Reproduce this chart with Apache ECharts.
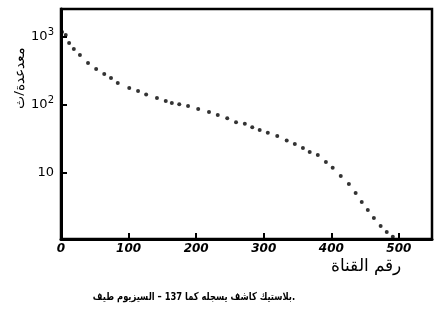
<!DOCTYPE html>
<html>
<head>
<meta charset="utf-8">
<script src="https://cdn.jsdelivr.net/npm/echarts@6/dist/echarts.min.js"></script>
<style>html,body{margin:0;padding:0;background:#fff}#c{width:446px;height:320px}</style>
</head>
<body>
<div id="c"></div>
<script>
const channels = [1.5, 7, 12, 19, 28, 40, 52, 64, 74, 84, 101, 114, 126, 142, 155, 164, 175, 188, 203, 219, 232, 246, 259, 272, 283, 294, 306, 320, 334, 346, 358, 368, 380, 392, 402, 414, 426, 436, 445, 454, 463, 473, 482, 491];
const counts = [1186, 1069, 817, 667, 543, 415, 338, 286, 250, 211, 178, 161, 143, 127, 115, 107, 103, 97, 87, 79, 71, 64, 56, 53, 47, 43, 39, 35, 30, 26.7, 23.3, 20.4, 18.4, 14.5, 11.9, 9.0, 6.9, 5.1, 3.75, 2.86, 2.18, 1.66, 1.36, 1.15];
const xTicks = [0, 100, 200, 300, 400, 500];
const yTicks = [10, 100, 1000];
const yTickLabels = ['10', '10{s|2}', '10{s|3}'];
const xName = 'رقم القناة';
const yName = 'معدعدة/ث';
const caption = 'طيف السيزيوم – 137 كما يسجله كاشف بلاستيك.';

const chart = echarts.init(document.getElementById('c'), null, {renderer: 'canvas'});
const pts = channels.map((c, i) => [c, counts[i]]);
// words laid out left to right, as printed in the reference
const captionShown = caption.split(' ').join('\u200E ');
chart.setOption({
  animation: false,
  backgroundColor: '#fff',
  grid: {left: 61, right: 14, top: 9, bottom: 81, show: true, borderColor: '#000', borderWidth: 2.5, backgroundColor: 'transparent'},
  xAxis: {
    type: 'value', min: 0, max: 549, interval: 100,
    axisLine: {show: true, lineStyle: {color: '#000', width: 3}},
    axisTick: {show: true, inside: true, length: 6, lineStyle: {color: '#000', width: 2}, customValues: xTicks},
    axisLabel: {color: '#000', fontFamily: 'DejaVu Sans', fontStyle: 'italic', fontWeight: 'bold', fontSize: 12, margin: 4, customValues: xTicks},
    splitLine: {show: false}
  },
  yAxis: {
    type: 'log', logBase: 10, min: 1.07, max: 2582,
    axisLine: {show: true, lineStyle: {color: '#000', width: 3}},
    axisTick: {show: true, inside: true, length: 6, lineStyle: {color: '#000', width: 2}, customValues: yTicks},
    axisLabel: {
      color: '#000', fontFamily: 'DejaVu Sans', fontSize: 13, margin: 7,
      customValues: yTicks,
      formatter: function (v) {
        const i = yTicks.findIndex(t => Math.abs(t - v) / t < 1e-6);
        return i >= 0 ? yTickLabels[i] : '';
      },
      rich: {s: {fontSize: 10, fontFamily: 'DejaVu Sans', color: '#000', padding: [0, 0, 9, 0]}}
    },
    splitLine: {show: false}, minorTick: {show: false}
  },
  graphic: [
    {type: 'text', x: 20, y: 78, rotation: Math.PI / 2,
     style: {text: yName, fontFamily: 'Noto Sans', fontSize: 14, fill: '#000', align: 'center', verticalAlign: 'middle'}},
    {type: 'text', x: 366, y: 266,
     style: {text: xName, fontFamily: 'Noto Sans', fontSize: 17, fill: '#000', align: 'center', verticalAlign: 'middle'}},
    {type: 'text', x: 194, y: 297, scaleX: 0.76,
     style: {text: captionShown, fontFamily: 'DejaVu Sans', fontSize: 11, fontWeight: 'bold', fill: '#000', align: 'center', verticalAlign: 'middle'}}
  ],
  series: [{
    type: 'scatter', data: pts, symbol: 'circle', symbolSize: 4,
    itemStyle: {color: '#000'}, silent: true
  }]
});
</script>
</body>
</html>
